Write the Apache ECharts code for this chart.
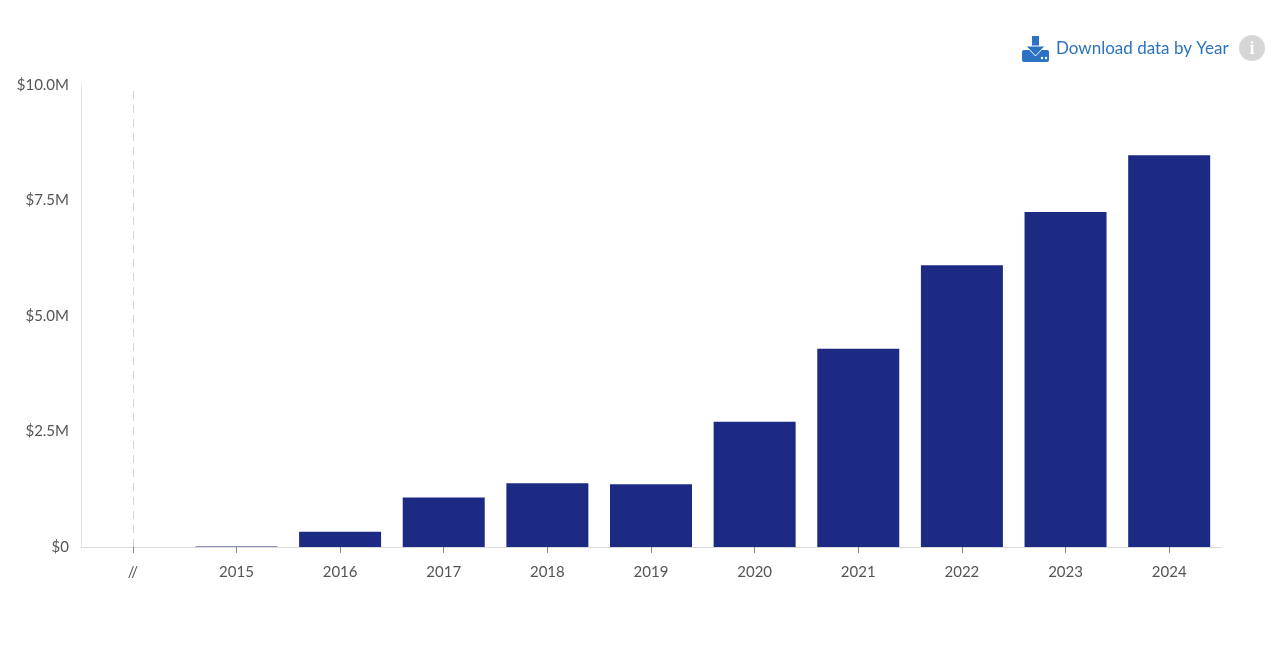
<!DOCTYPE html>
<html><head><meta charset="utf-8">
<script src="https://cdn.jsdelivr.net/npm/echarts@6/dist/echarts.min.js"></script>
<style>html,body{margin:0;padding:0;background:#fff}#c{width:1283px;height:648px}</style>
</head><body><div id="c"></div>
<script>
const categories = ['//','2015','2016','2017','2018','2019','2020','2021','2022','2023','2024'];
const values = [null,0.01,0.33,1.07,1.38,1.36,2.71,4.29,6.10,7.25,8.48];
const yTicks = ['$0','$2.5M','$5.0M','$7.5M','$10.0M'];
const font = 'Lato,"Noto Sans",sans-serif';
const chart = echarts.init(document.getElementById('c'));
chart.setOption({
  animation:false,
  grid:{left:81,right:62,top:85,bottom:101,containLabel:false},
  xAxis:{type:'category',data:categories,
    axisLine:{lineStyle:{color:'#d8d8d8'}},
    axisTick:{show:true,alignWithLabel:true,lineStyle:{color:'#888'},length:6},
    axisLabel:{color:'#555',fontSize:15,fontFamily:font,margin:18}},
  yAxis:{type:'value',min:0,max:10,interval:2.5,
    axisLine:{show:true,lineStyle:{color:'#e3e3e3'}},
    splitLine:{show:false},axisTick:{show:false},
    axisLabel:{color:'#555',fontSize:15,fontFamily:font,margin:12,
      formatter:(v)=>yTicks[Math.round(v/2.5)]}},
  series:[{type:'bar',data:values,barWidth:82,itemStyle:{color:'#1c2a84'},
    markLine:{symbol:'none',silent:true,label:{show:false},
      lineStyle:{color:'#d5d5d5',type:[8,6],width:1},
      data:[{xAxis:'//'}]}}],
  graphic:[
    {type:'group',left:1022,top:36,children:[
      {type:'rect',shape:{x:0,y:14,width:27,height:12,r:2},style:{fill:'#2b73c2'}},
      {type:'rect',shape:{x:10,y:0,width:7,height:12},style:{fill:'#2b73c2'}},
      {type:'polygon',shape:{points:[[4,10],[23,10],[13.5,20]]},style:{fill:'#2b73c2',stroke:'#fff',lineWidth:1}},
      {type:'circle',shape:{cx:20,cy:22,r:1.2},style:{fill:'#fff'}},
      {type:'circle',shape:{cx:24,cy:22,r:1.2},style:{fill:'#fff'}}
    ]},
    {type:'text',left:1056,top:40,style:{text:'Download data by Year',fill:'#2b73c2',fontSize:17,fontFamily:font}},
    {type:'circle',shape:{cx:1252,cy:48,r:13},style:{fill:'#d6d6d6'}},
    {type:'text',x:1252,y:49,style:{text:'i',fill:'#fff',fontSize:18,fontWeight:'bold',fontFamily:'Georgia,serif',align:'center',verticalAlign:'middle'}}
  ]
});
</script></body></html>
